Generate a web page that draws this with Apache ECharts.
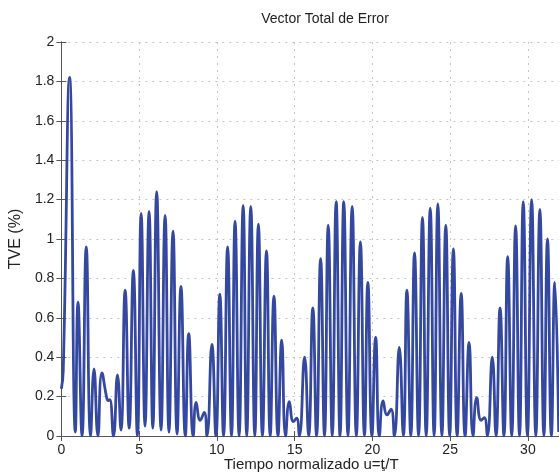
<!DOCTYPE html>
<html>
<head>
<meta charset="utf-8">
<script src="https://cdn.jsdelivr.net/npm/echarts@6/dist/echarts.min.js"></script>
<style>
html,body{margin:0;padding:0;background:#fff;}
#c{width:559px;height:475px;}
</style>
</head>
<body>
<div id="c"></div>
<script>
// Peaks / troughs (normalized time u, TVE %)
var uValues = [
  0, 0.12, 0.53, 0.90, 1.07, 1.33, 1.60, 1.88, 2.10, 2.35, 2.61, 2.93, 3.03, 3.12, 3.35, 3.61, 3.83,
  4.10, 4.36, 4.63, 4.89, 5.13, 5.38, 5.64, 5.88, 6.13, 6.41, 6.67, 6.92, 7.18, 7.44, 7.69, 7.97,
  8.19, 8.48, 8.67, 8.93, 9.19, 9.36, 9.68, 9.94, 10.19, 10.43, 10.69, 10.94, 11.17, 11.43, 11.69,
  11.92, 12.18, 12.44, 12.67, 12.93, 13.19, 13.43, 13.67, 13.93, 14.17, 14.42, 14.66, 14.92, 15.13,
  15.30, 15.64, 15.90, 16.17, 16.41, 16.67, 16.92, 17.16, 17.42, 17.67, 17.92, 18.16, 18.43, 18.70,
  18.97, 19.23, 19.49, 19.71, 19.97, 20.21, 20.45, 20.69, 20.94, 21.20, 21.41, 21.73, 21.99, 22.22,
  22.47, 22.71, 22.97, 23.22, 23.46, 23.72, 23.97, 24.21, 24.47, 24.72, 24.97, 25.21, 25.45, 25.71,
  25.96, 26.22, 26.47, 26.71, 26.99, 27.20, 27.39, 27.71, 27.95, 28.21, 28.46, 28.70, 28.96, 29.21,
  29.46, 29.70, 29.97, 30.24, 30.51, 30.77, 31.03, 31.26, 31.51, 31.73, 31.98
];
var tveValues = [
  0.24, 0.33, 1.82, 0.02, 0.68, 0.00, 0.96, 0.00, 0.34, 0.00, 0.32, 0.19, 0.18, 0.185, 0.00, 0.31, 0.03,
  0.74, 0.04, 0.84, 0.00, 1.13, 0.05, 1.14, 0.04, 1.24, 0.03, 1.12, 0.02, 1.04, 0.01, 0.76, 0.00,
  0.52, 0.00, 0.17, 0.08, 0.12, 0.00, 0.465, 0.00, 0.72, 0.00, 0.96, 0.00, 1.09, 0.00, 1.17,
  0.00, 1.165, 0.00, 1.075, 0.00, 0.94, 0.00, 0.71, 0.00, 0.487, 0.00, 0.175, 0.073, 0.09,
  0.00, 0.40, 0.00, 0.65, 0.00, 0.90, 0.00, 1.07, 0.00, 1.19, 0.00, 1.19, 0.00, 1.165,
  0.00, 0.985, 0.00, 0.78, 0.00, 0.50, 0.00, 0.178, 0.107, 0.136, 0.00, 0.45, 0.00, 0.74,
  0.00, 0.93, 0.00, 1.11, 0.00, 1.156, 0.00, 1.178, 0.00, 1.07, 0.00, 0.95, 0.00, 0.724,
  0.00, 0.475, 0.00, 0.195, 0.08, 0.093, 0.00, 0.40, 0.00, 0.65, 0.00, 0.91, 0.00, 1.066,
  0.00, 1.19, 0.00, 1.20, 0.00, 1.15, 0.00, 1.00, 0.00, 0.78, 0.02
];
var xTicks = [0, 5, 10, 15, 20, 25, 30];
var yTicks = [0, 0.2, 0.4, 0.6, 0.8, 1, 1.2, 1.4, 1.6, 1.8, 2];

var chart = echarts.init(document.getElementById('c'), null, {renderer: 'canvas'});
var data = uValues.map(function (u, i) { return [u, tveValues[i]]; });
var FONT = 'Liberation Sans, Arial, sans-serif';
var axisColor = '#555555';

var gridCommonSplit = {show: true, lineStyle: {color: '#c4c4c4', type: [2, 5], width: 1}};

chart.setOption({
  backgroundColor: '#ffffff',
  animation: false,
  title: {
    text: 'Vector Total de Error',
    left: 320, top: 7, textAlign: 'center',
    textStyle: {fontFamily: FONT, fontSize: 14, fontWeight: 'normal', color: '#222'}
  },
  grid: {left: 60, top: 42, width: 500, height: 394, containLabel: false},
  xAxis: [{
    type: 'value', min: 0, max: 32, interval: 5, position: 'bottom',
    axisLine: {show: true, lineStyle: {color: axisColor, width: 1}},
    axisTick: {show: true, inside: true, length: 5, lineStyle: {color: axisColor}},
    axisLabel: {
      show: true, margin: 7, fontFamily: FONT, fontSize: 14, color: '#222',
      showMaxLabel: false,
      formatter: function (v) { return xTicks.indexOf(v) >= 0 ? String(v) : ''; }
    },
    splitLine: gridCommonSplit
  }, {
    type: 'value', min: 0, max: 32, interval: 5, position: 'top',
    axisLine: {show: true, lineStyle: {color: axisColor, width: 1}},
    axisTick: {show: true, inside: true, length: 5, lineStyle: {color: axisColor}},
    axisLabel: {show: false},
    splitLine: {show: false}
  }],
  yAxis: [{
    type: 'value', min: 0, max: 2, interval: 0.2, position: 'left',
    name: 'TVE (%)', nameLocation: 'middle', nameGap: 36, nameRotate: 90,
    nameTextStyle: {fontFamily: FONT, fontSize: 16, color: '#222'},
    axisLine: {show: true, lineStyle: {color: axisColor, width: 1}},
    axisTick: {show: true, inside: true, length: 5, lineStyle: {color: axisColor}},
    axisLabel: {
      show: true, margin: 7, fontFamily: FONT, fontSize: 14, color: '#222',
      formatter: function (v) {
        var r = Math.round(v * 10) / 10;
        return yTicks.indexOf(r) >= 0 ? String(r) : '';
      }
    },
    splitLine: gridCommonSplit
  }, {
    type: 'value', min: 0, max: 2, interval: 0.2, position: 'right',
    axisLine: {show: true, lineStyle: {color: axisColor, width: 1}},
    axisTick: {show: true, inside: true, length: 5, lineStyle: {color: axisColor}},
    axisLabel: {show: false},
    splitLine: {show: false}
  }],
  graphic: [{
    type: 'text', left: 224, top: 457,
    style: {
      text: 'Tiempo normalizado u={s|t}{sub|s}{s|/T}',
      rich: {
        s: {fontFamily: FONT, fontSize: 15, fill: '#222'},
        sub: {fontFamily: FONT, fontSize: 7, fill: '#222', verticalAlign: 'bottom', padding: [10, 0, 0, -3]}
      },
      font: '15px ' + FONT, fill: '#222'
    }
  }],
  series: [{
    type: 'line', xAxisIndex: 0, yAxisIndex: 0,
    data: data, smooth: 0.5, showSymbol: false, symbol: 'none',
    clip: true,
    lineStyle: {color: '#3448a0', width: 2.8}
  }]
});
</script>
</body>
</html>
